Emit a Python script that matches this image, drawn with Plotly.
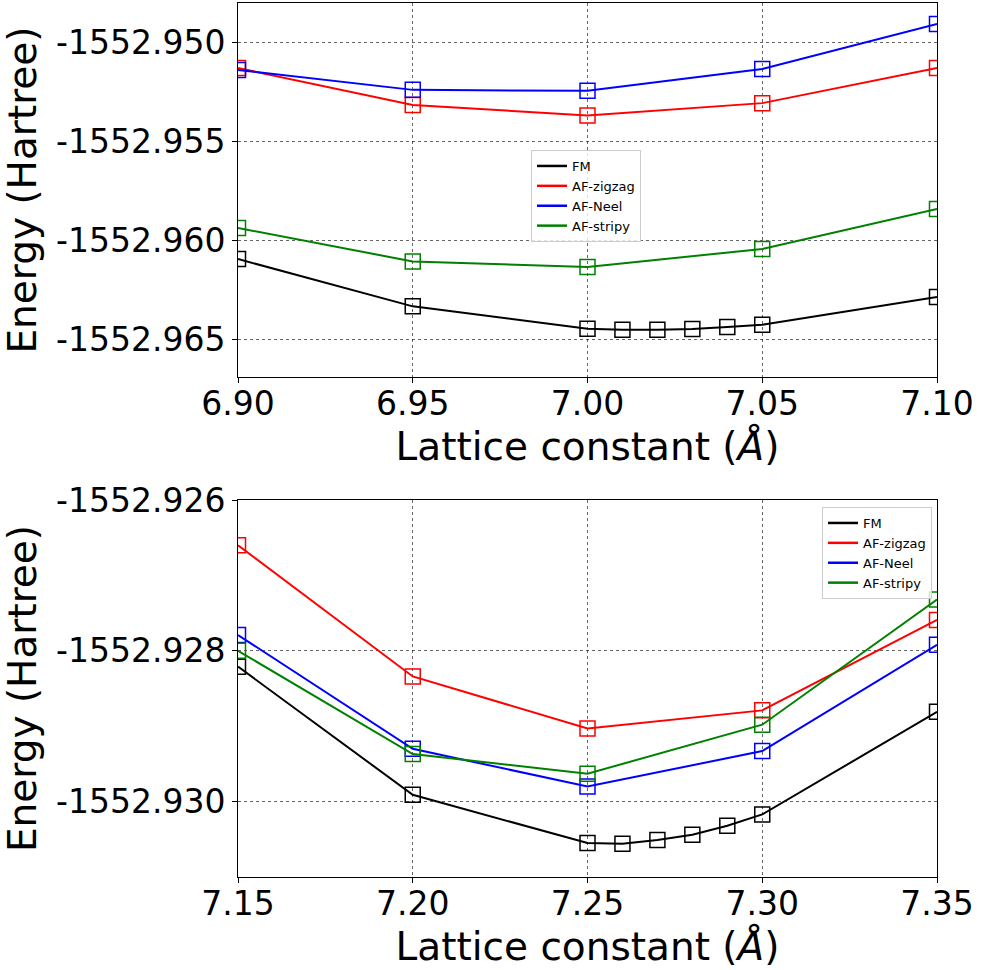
import plotly.graph_objects as go
from plotly.subplots import make_subplots

# ---- top panel data ----
x_top = [6.90, 6.95, 7.00, 7.05, 7.10]
x_top_fm = [6.90, 6.95, 7.00, 7.01, 7.02, 7.03, 7.04, 7.05, 7.10]
fm_top = [-1552.96094, -1552.96333, -1552.96446, -1552.96451, -1552.96451,
          -1552.96447, -1552.96437, -1552.96426, -1552.96286]
zigzag_top = [-1552.95129, -1552.95315, -1552.95369, -1552.95306, -1552.95129]
neel_top = [-1552.95138, -1552.95239, -1552.95244, -1552.95133, -1552.94906]
stripy_top = [-1552.95937, -1552.96106, -1552.96134, -1552.96043, -1552.95841]

# ---- bottom panel data ----
x_bot = [7.15, 7.20, 7.25, 7.30, 7.35]
x_bot_fm = [7.15, 7.20, 7.25, 7.26, 7.27, 7.28, 7.29, 7.30, 7.35]
fm_bot = [-1552.92821, -1552.92991, -1552.93055, -1552.93056, -1552.93051,
          -1552.93044, -1552.93032, -1552.93017, -1552.92881]
zigzag_bot = [-1552.92660, -1552.92834, -1552.92903, -1552.92879, -1552.92759]
neel_bot = [-1552.92779, -1552.92930, -1552.92980, -1552.92933, -1552.92792]
stripy_bot = [-1552.92800, -1552.92937, -1552.92963, -1552.92898, -1552.92732]

# ---- ticks ----
xt_top = [6.90, 6.95, 7.00, 7.05, 7.10]
xt_top_txt = ["6.90", "6.95", "7.00", "7.05", "7.10"]
yt_top = [-1552.950, -1552.955, -1552.960, -1552.965]
yt_top_txt = ["-1552.950", "-1552.955", "-1552.960", "-1552.965"]
xt_bot = [7.15, 7.20, 7.25, 7.30, 7.35]
xt_bot_txt = ["7.15", "7.20", "7.25", "7.30", "7.35"]
yt_bot = [-1552.926, -1552.928, -1552.930]
yt_bot_txt = ["-1552.926", "-1552.928", "-1552.930"]

names = ["FM", "AF-zigzag", "AF-Neel", "AF-stripy"]
colors = ["black", "red", "blue", "green"]

W, H = 982, 970
L, R, T, B = 238, 45, 3, 93
plot_h = H - T - B
top_dom = [(877 - 377) / plot_h, 1.0]
bot_dom = [0.0, (877 - 500) / plot_h]

fig = make_subplots(rows=2, cols=1)

top_sets = [(x_top_fm, fm_top), (x_top, zigzag_top), (x_top, neel_top), (x_top, stripy_top)]
bot_sets = [(x_bot_fm, fm_bot), (x_bot, zigzag_bot), (x_bot, neel_bot), (x_bot, stripy_bot)]

for row, sets, leg in [(1, top_sets, "legend"), (2, bot_sets, "legend2")]:
    for (xs, ys), n, c in zip(sets, names, colors):
        fig.add_trace(go.Scatter(x=xs, y=ys, name=n, mode="lines+markers",
                                 line=dict(color=c, width=2),
                                 marker=dict(symbol="square-open", size=15, color=c,
                                             line=dict(width=1.5, color=c)),
                                 showlegend=False), row=row, col=1)
        # legend entry (line only, as in the reference)
        fig.add_trace(go.Scatter(x=[None], y=[None], name=n, mode="lines",
                                 line=dict(color=c, width=2.5),
                                 legend=leg, showlegend=True), row=row, col=1)

axis_common = dict(showline=True, linecolor="black", linewidth=1, mirror=True,
                   ticks="outside", ticklen=5, tickwidth=1, tickcolor="black",
                   showgrid=True, gridcolor="rgba(0,0,0,0.6)", gridwidth=1,
                   griddash="dot", zeroline=False, automargin=False,
                   tickfont=dict(size=33, color="black"))

title_font = dict(size=39, color="black")

leg_common = dict(bgcolor="rgba(255,255,255,0.8)", bordercolor="#cccccc", borderwidth=1,
                  font=dict(size=13, color="black"), tracegroupgap=0, itemwidth=30)

fig.update_layout(
    xaxis=dict(axis_common, domain=[0, 1], range=[6.90, 7.10],
               tickvals=xt_top, ticktext=xt_top_txt, ticklabelstandoff=-8,
               title=dict(text="Lattice constant (<i>Å</i>)", font=title_font, standoff=11)),
    yaxis=dict(axis_common, domain=top_dom, range=[-1552.9669, -1552.9480],
               tickvals=yt_top, ticktext=yt_top_txt,
               title=dict(text="Energy (Hartree)", font=title_font, standoff=12)),
    xaxis2=dict(axis_common, domain=[0, 1], range=[7.15, 7.35],
                tickvals=xt_bot, ticktext=xt_bot_txt, ticklabelstandoff=-8,
                title=dict(text="Lattice constant (<i>Å</i>)", font=title_font, standoff=10)),
    yaxis2=dict(axis_common, domain=bot_dom, range=[-1552.9310, -1552.9260],
                tickvals=yt_bot, ticktext=yt_bot_txt,
                title=dict(text="Energy (Hartree)", font=title_font, standoff=12)),
    legend=dict(leg_common, x=(531 - L) / (W - L - R), y=(877 - 150) / plot_h,
                xanchor="left", yanchor="top"),
    legend2=dict(leg_common, x=(932 - L) / (W - L - R), y=(877 - 507) / plot_h,
                 xanchor="right", yanchor="top"),
    width=W, height=H,
    margin=dict(l=L, r=R, t=T, b=B, autoexpand=False),
    paper_bgcolor="white", plot_bgcolor="white",
    font=dict(family="DejaVu Sans", color="black"),
    showlegend=True,
)

fig.write_html("out.html")
